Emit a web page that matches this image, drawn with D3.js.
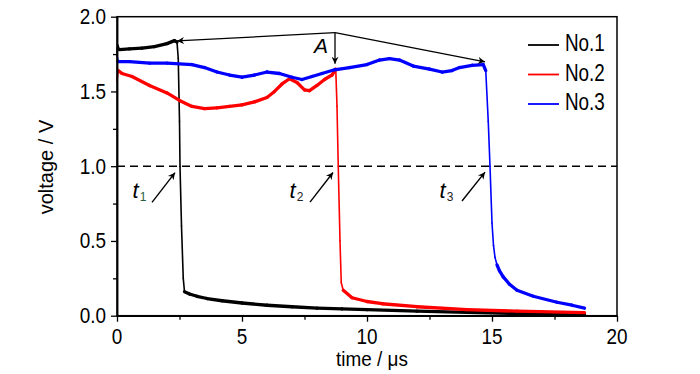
<!DOCTYPE html>
<html>
<head>
<meta charset="utf-8">
<script src="https://cdn.jsdelivr.net/npm/d3@7"></script>
<style>
  body { margin: 0; background: #fff; }
  svg { display: block; font-family: "Liberation Sans", Arial, sans-serif; }
</style>
</head>
<body>
<svg class="chart" width="700" height="374"></svg>
<script>
// values (time in us, voltage in V)
const seriesNames = ['No.1', 'No.2', 'No.3'];
const seriesColors = ['#000000', '#ff0000', '#0000ff'];

const time1 = [0, 0.03, 0.1, 0.5, 1.0, 1.5, 2.0, 2.3, 2.4, 2.45, 2.5, 2.52, 2.58, 2.65, 2.7, 2.9, 3.2, 3.6, 4.2, 5, 6, 7, 8, 9, 10, 12, 14, 16, 18.7];
const volt1 = [1.76, 1.81, 1.78, 1.785, 1.79, 1.80, 1.82, 1.84, 1.83, 1.72, 1.3, 1.0, 0.6, 0.25, 0.16, 0.145, 0.13, 0.115, 0.10, 0.085, 0.07, 0.06, 0.05, 0.045, 0.04, 0.03, 0.022, 0.015, 0.01];

const time2 = [0, 0.05, 0.2, 0.6, 1.3, 2.0, 2.5, 3.0, 3.5, 4.0, 4.5, 5.0, 5.5, 6.0, 6.3, 6.6, 6.9, 7.2, 7.5, 7.7, 8.0, 8.3, 8.6, 8.75, 8.8, 8.85, 8.92, 8.97, 9.05, 9.4, 10, 10.6, 12, 14, 16, 18.7];
const volt2 = [1.57, 1.64, 1.62, 1.60, 1.54, 1.49, 1.44, 1.40, 1.385, 1.39, 1.40, 1.41, 1.43, 1.46, 1.50, 1.55, 1.585, 1.56, 1.51, 1.505, 1.54, 1.58, 1.61, 1.65, 1.4, 1.0, 0.5, 0.22, 0.17, 0.12, 0.095, 0.08, 0.06, 0.04, 0.03, 0.02];

const time3 = [0, 0.05, 0.5, 1.3, 2, 3, 3.5, 4, 4.5, 5, 5.5, 6, 6.5, 7, 7.4, 7.8, 8.2, 8.7, 9.3, 10, 10.5, 10.9, 11.3, 11.85, 12.5, 13, 13.4, 13.7, 14.2, 14.65, 14.75, 14.85, 14.92, 15.0, 15.06, 15.12, 15.2, 15.3, 15.45, 15.7, 16, 16.65, 17.6, 18.2, 18.7];
const volt3 = [1.74, 1.70, 1.70, 1.69, 1.69, 1.68, 1.66, 1.63, 1.61, 1.595, 1.61, 1.63, 1.62, 1.595, 1.58, 1.60, 1.62, 1.645, 1.66, 1.68, 1.71, 1.72, 1.71, 1.67, 1.65, 1.63, 1.64, 1.66, 1.675, 1.68, 1.64, 1.3, 1.0, 0.62, 0.47, 0.39, 0.34, 0.30, 0.26, 0.21, 0.17, 0.13, 0.09, 0.07, 0.05];

const xTicks = [0, 5, 10, 15, 20];
const xMinor = [2.5, 7.5, 12.5, 17.5];
const yTicks = [0, 0.5, 1.0, 1.5, 2.0];
const yMinor = [0.25, 0.75, 1.25, 1.75];
const threshold = 1.0;

// annotation points [time, voltage]
const apexA = [8.72, 1.893];
const tipsA = [[2.4, 1.838], [14.72, 1.698], [8.72, 1.685]];
const crossLabels = ['1', '2', '3'];
const crossTails = [[1.4, 0.758], [7.72, 0.76], [13.8, 0.767]];
const crossTips = [[2.32, 0.957], [8.64, 0.958], [14.72, 0.96]];
const crossLabelPos = [[0.62, 0.79], [6.9, 0.79], [12.9, 0.79]];

const svg = d3.select('.chart');
const margin = { top: 16.7, right: 83, bottom: 58.3, left: 117 };
const width = +svg.attr('width');
const height = +svg.attr('height');
const innerWidth = width - margin.left - margin.right;
const innerHeight = height - margin.top - margin.bottom;

const xScale = d3.scaleLinear().domain([0, 20]).range([0, innerWidth]);
const yScale = d3.scaleLinear().domain([0, 2]).range([innerHeight, 0]);

const g = svg.append('g').attr('transform', `translate(${margin.left},${margin.top})`);

// squeeze text horizontally like the original
function narrow(sel, k) {
    sel.each(function() {
        const w = this.getComputedTextLength();
        d3.select(this).attr('textLength', w * k).attr('lengthAdjust', 'spacingAndGlyphs');
    });
}

// arrow head
svg.append('defs').append('marker')
    .attr('id', 'head')
    .attr('viewBox', '0 0 10 10')
    .attr('refX', 10).attr('refY', 5)
    .attr('markerWidth', 11).attr('markerHeight', 7)
    .attr('markerUnits', 'userSpaceOnUse')
    .attr('orient', 'auto')
    .append('path').attr('d', 'M0,0 L10,5 L0,10 L3,5 Z').attr('fill', '#000');

// dashed threshold line
g.append('line')
    .attr('x1', 0).attr('x2', innerWidth)
    .attr('y1', yScale(threshold)).attr('y2', yScale(threshold))
    .attr('stroke', '#000').attr('stroke-width', 1.5)
    .attr('stroke-dasharray', '8,5');

// series: noisy flat parts thicker, steep drops thin
const series = [[time1, volt1], [time2, volt2], [time3, volt3]];
series.forEach(([ts, vs], si) => {
    const pts = ts.map((t, i) => [xScale(t), yScale(vs[i])]);
    const segs = d3.pairs(pts);
    g.append('g')
        .attr('stroke', seriesColors[si])
        .attr('stroke-linecap', 'round')
        .attr('fill', 'none')
        .selectAll('line')
        .data(segs)
        .join('line')
        .attr('x1', d => d[0][0]).attr('y1', d => d[0][1])
        .attr('x2', d => d[1][0]).attr('y2', d => d[1][1])
        .attr('stroke-width', d => {
            const dx = Math.abs(d[1][0] - d[0][0]);
            const dy = Math.abs(d[1][1] - d[0][1]);
            return dy > 2.5 * dx ? 1.6 : 3.3;
        });
});

// frame
g.append('rect')
    .attr('width', innerWidth).attr('height', innerHeight)
    .attr('fill', 'none').attr('stroke', '#000').attr('stroke-width', 1.5);

// axes: tick marks from d3.axis, labels placed separately
g.append('g')
    .attr('transform', `translate(0,${innerHeight})`)
    .call(d3.axisBottom(xScale).tickValues(xTicks).tickSize(6).tickSizeOuter(0));
g.append('g')
    .attr('transform', `translate(0,${innerHeight})`)
    .call(d3.axisBottom(xScale).tickValues(xMinor).tickSize(4).tickSizeOuter(0));
g.append('g')
    .call(d3.axisLeft(yScale).tickValues(yTicks).tickSize(6).tickSizeOuter(0));
g.append('g')
    .call(d3.axisLeft(yScale).tickValues(yMinor).tickSize(4).tickSizeOuter(0));
g.selectAll('.tick text').remove();
g.selectAll('.domain').attr('stroke-width', 1.5);
g.selectAll('.tick line').attr('stroke-width', 1.3);

g.append('g')
    .selectAll('text')
    .data(xTicks)
    .join('text')
    .attr('x', d => xScale(d))
    .attr('y', innerHeight + 28.5)
    .attr('text-anchor', 'middle')
    .attr('font-size', 22)
    .text(d3.format('d'))
    .call(narrow, 0.86);
g.append('g')
    .selectAll('text')
    .data(yTicks)
    .join('text')
    .attr('x', -11)
    .attr('y', d => yScale(d) + 7.5)
    .attr('text-anchor', 'end')
    .attr('font-size', 22)
    .text(d3.format('.1f'))
    .call(narrow, 0.86);

// axis titles
svg.append('text')
    .attr('x', 372).attr('y', 366)
    .attr('text-anchor', 'middle')
    .attr('font-size', 21)
    .text('time / \u03bcs')
    .call(narrow, 0.9);
svg.append('text')
    .attr('transform', 'translate(53,167) rotate(-90)')
    .attr('text-anchor', 'middle')
    .attr('font-size', 20)
    .text('voltage / V');

// A annotation
tipsA.forEach(tip => {
    g.append('line')
        .attr('x1', xScale(apexA[0])).attr('y1', yScale(apexA[1]))
        .attr('x2', xScale(tip[0])).attr('y2', yScale(tip[1]))
        .attr('stroke', '#000').attr('stroke-width', 1.3)
        .attr('marker-end', 'url(#head)');
});
g.append('text')
    .attr('x', xScale(apexA[0]) - 14).attr('y', yScale(apexA[1]) + 20)
    .attr('text-anchor', 'middle')
    .attr('font-size', 21)
    .attr('font-style', 'italic')
    .text('A');

// crossing arrows and t labels
crossTails.forEach((tail, i) => {
    g.append('line')
        .attr('x1', xScale(tail[0])).attr('y1', yScale(tail[1]))
        .attr('x2', xScale(crossTips[i][0])).attr('y2', yScale(crossTips[i][1]))
        .attr('stroke', '#000').attr('stroke-width', 1.4)
        .attr('marker-end', 'url(#head)');
    const lbl = g.append('text')
        .attr('x', xScale(crossLabelPos[i][0])).attr('y', yScale(crossLabelPos[i][1]))
        .attr('font-size', 22);
    lbl.append('tspan').attr('font-style', 'italic').text('t');
    lbl.append('tspan').attr('font-size', 12).attr('dy', 3).attr('dx', 1)
        .attr('fill', i === 0 ? '#2a6040' : '#222')
        .text(crossLabels[i]);
});

// legend
const legend = svg.append('g').attr('transform', 'translate(528,51)');
seriesNames.forEach((name, i) => {
    const row = legend.append('g').attr('transform', `translate(0,${i * 29.5})`);
    row.append('line')
        .attr('x1', 0).attr('x2', 31).attr('y1', -6).attr('y2', -6)
        .attr('stroke', seriesColors[i]).attr('stroke-width', 1.8);
    row.append('text')
        .attr('x', 37).attr('y', 0)
        .attr('font-size', 23)
        .text(name)
        .call(narrow, 0.82);
});
</script>
</body>
</html>
